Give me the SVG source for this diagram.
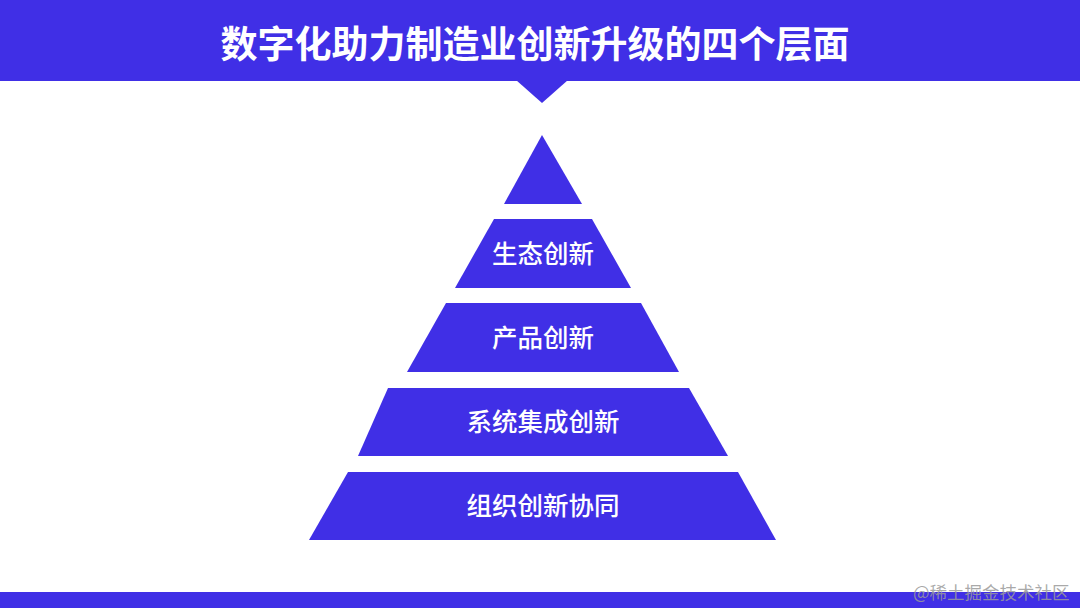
<svg xmlns="http://www.w3.org/2000/svg" width="1080" height="608" viewBox="0 0 1080 608">
<style>
.b{fill:#402fe6}
.lbl{fill:#fff;font-family:"Noto Sans CJK SC","Noto Sans",sans-serif;font-size:25.5px;font-weight:500;text-anchor:middle;dominant-baseline:central}
.title{fill:#fff;font-family:"Noto Sans CJK SC","Noto Sans",sans-serif;font-size:37px;font-weight:700;text-anchor:middle}
.wm{fill:#9a9a9a;fill-opacity:0.85;font-family:"Noto Sans CJK SC","Noto Sans",sans-serif;font-size:17.5px}
</style>
<rect width="1080" height="608" fill="#fff"/>
<g id="header">
<rect class="b" x="0" y="0" width="1080" height="81"/>
<polygon class="b" points="516,80 568,80 542,103"/>
<text class="title" x="535" y="58">数字化助力制造业创新升级的四个层面</text>
</g>
<g id="level1"><polygon class="b" points="542,135 582,204 504,204"/></g>
<g id="level2"><polygon class="b" points="494,219 592,219 631,288 455,288"/><text class="lbl" x="543" y="251">生态创新</text></g>
<g id="level3"><polygon class="b" points="446,303 641,303 679,372 407,372"/><text class="lbl" x="543" y="335">产品创新</text></g>
<g id="level4"><polygon class="b" points="388,388 689,388 728,456 358,456"/><text class="lbl" x="543" y="419">系统集成创新</text></g>
<g id="level5"><polygon class="b" points="348,472 738,472 776,540 309,540"/><text class="lbl" x="543" y="503">组织创新协同</text></g>
<g id="connectors"></g>
<g id="footer">
<rect class="b" x="0" y="592" width="1080" height="16"/>
<text class="wm" x="913" y="599">@稀土掘金技术社区</text>
</g>
</svg>
